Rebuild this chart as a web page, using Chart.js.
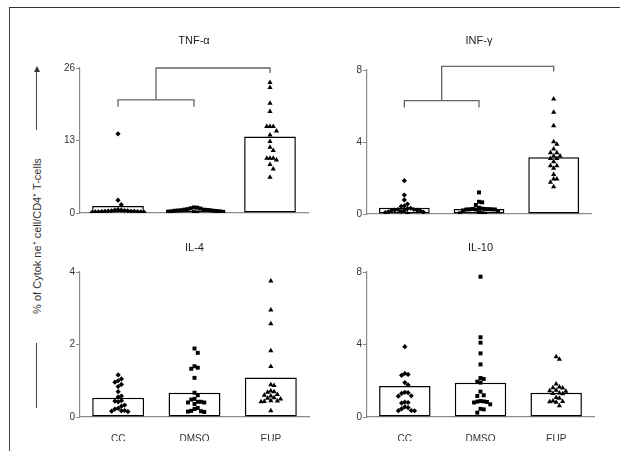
<!DOCTYPE html>
<html>
<head>
<meta charset="utf-8">
<script src="https://cdn.jsdelivr.net/npm/chart.js@4.4.1/dist/chart.umd.min.js"></script>
<style>
  html,body{margin:0;padding:0;background:#fff;}
  body{width:620px;height:451px;position:relative;overflow:hidden;font-family:"Liberation Sans",Arial,sans-serif;}
  canvas{position:absolute;}
  #frame{position:absolute;left:9px;top:7px;width:620px;height:450px;border-top:1.5px solid #333;border-left:1px solid #444;}
  #ytitle{position:absolute;left:36px;top:236px;transform:translate(-50%,-50%) rotate(-90deg);white-space:nowrap;font-size:11px;color:#333;}
  .vline{position:absolute;width:1px;background:#444;}
  #arrowhead{position:absolute;left:33.5px;top:66px;width:0;height:0;border-left:3px solid transparent;border-right:3px solid transparent;border-bottom:6px solid #333;}
</style>
</head>
<body>
<div id="frame"></div>
<div id="ytitle">% of Cytok ne⁺ cell/CD4⁺ T-cells</div>
<div class="vline" style="left:36px;top:70px;height:60px;"></div>
<div id="arrowhead"></div>
<div class="vline" style="left:36px;top:343px;height:65px;"></div>

<canvas id="c0" width="292" height="203" style="left:20px;top:20px;"></canvas>
<canvas id="c1" width="288" height="204" style="left:307px;top:20px;"></canvas>
<canvas id="c2" width="293" height="214" style="left:20px;top:227px;"></canvas>
<canvas id="c3" width="291" height="214" style="left:307px;top:227px;"></canvas>

<script>
// ---------- data ----------
const categories = ['CC', 'DMSO', 'EUP'];
const panelTitles = ['TNF-α', 'INF-γ', 'IL-4', 'IL-10'];
const yMaxes = [26, 8, 4, 8];
const yTickValues = [[0, 13, 26], [0, 4, 8], [0, 2, 4], [0, 4, 8]];

const tnfCC   = [14.2, 2.3, 1.5, 0.6, 0.5, 0.5, 0.45, 0.4, 0.4, 0.35, 0.3, 0.3, 0.3, 0.25, 0.25, 0.2, 0.2, 0.2, 0.15, 0.1];
const tnfDMSO = [1.0, 0.95, 0.85, 0.8, 0.7, 0.6, 0.6, 0.55, 0.5, 0.5, 0.45, 0.4, 0.4, 0.35, 0.3, 0.3, 0.25, 0.2, 0.15, 0.1];
const tnfEUP  = [23.4, 22.5, 19.7, 18.2, 15.5, 15.5, 15.5, 14.7, 14.0, 12.8, 11.8, 11.2, 9.8, 9.8, 9.8, 9.5, 8.7, 7.9, 6.4];
const tnfBars = [1.25, 0.4, 13.7];

const infCC   = [1.85, 1.05, 0.78, 0.55, 0.45, 0.42, 0.32, 0.3, 0.25, 0.25, 0.22, 0.22, 0.2, 0.2, 0.18, 0.15, 0.12, 0.1, 0.08, 0.03];
const infDMSO = [1.2, 0.68, 0.65, 0.5, 0.35, 0.3, 0.28, 0.28, 0.27, 0.26, 0.26, 0.25, 0.25, 0.25, 0.2, 0.15, 0.1, 0.05, 0.04, 0.02];
const infEUP  = [6.39, 5.65, 4.9, 4.02, 3.87, 3.61, 3.4, 3.4, 3.22, 3.22, 3.09, 3.09, 2.9, 2.68, 2.68, 2.54, 2.2, 1.94, 1.94, 1.76, 1.52];
const infBars = [0.35, 0.28, 3.15];

const il4CC   = [1.16, 1.05, 1.0, 0.96, 0.9, 0.84, 0.7, 0.58, 0.55, 0.45, 0.44, 0.42, 0.33, 0.3, 0.24, 0.22, 0.18, 0.17, 0.16, 0.15];
const il4DMSO = [1.89, 1.77, 1.4, 1.36, 1.33, 1.08, 0.67, 0.6, 0.5, 0.48, 0.42, 0.42, 0.4, 0.4, 0.36, 0.25, 0.22, 0.17, 0.16, 0.15, 0.14];
const il4EUP  = [3.75, 2.95, 2.57, 1.83, 1.39, 0.89, 0.87, 0.72, 0.7, 0.68, 0.62, 0.6, 0.58, 0.53, 0.52, 0.5, 0.45, 0.44, 0.43, 0.42, 0.17];
const il4Bars = [0.53, 0.67, 1.09];

const il10CC   = [3.88, 2.4, 2.35, 2.3, 1.9, 1.77, 1.36, 1.34, 1.3, 1.17, 1.15, 0.82, 0.8, 0.77, 0.56, 0.52, 0.45, 0.36, 0.35, 0.34];
const il10DMSO = [7.74, 4.4, 4.1, 3.51, 2.9, 2.15, 2.1, 1.95, 1.9, 1.4, 1.2, 1.16, 0.88, 0.86, 0.85, 0.83, 0.8, 0.7, 0.45, 0.42, 0.24];
const il10EUP  = [3.33, 3.18, 1.82, 1.65, 1.62, 1.6, 1.48, 1.45, 1.42, 1.33, 1.3, 1.28, 1.08, 1.04, 0.88, 0.86, 0.84, 0.82, 0.62];
const il10Bars = [1.71, 1.89, 1.34];

// significance brackets (top panels only): lower / upper bracket values
const bracketLow  = [20.3, 6.3];
const bracketHigh = [26, 8.2];

// ---------- helpers ----------
const panelGroups = [
  [tnfCC, tnfDMSO, tnfEUP],
  [infCC, infDMSO, infEUP],
  [il4CC, il4DMSO, il4EUP],
  [il10CC, il10DMSO, il10EUP]
];
const panelBars = [tnfBars, infBars, il4Bars, il10Bars];
const pointStyles = ['rectRot', 'rect', 'triangle'];
const pointRadii = [2.6, 2.8, 3];

// column-scatter (beeswarm) offsets, computed in approximate pixel space
const PX_PER_CAT = 77.3, PLOT_H = 145, STEP_PX = 3.3, THR_PX = 4.5;
function swarmOffsets(values, yMax) {
  const pxPerUnit = PLOT_H / yMax;
  const order = values.map((v, i) => i).sort((a, b) => values[b] - values[a]);
  const placed = [];
  const off = new Array(values.length);
  for (const i of order) {
    const py = values[i] * pxPerUnit;
    for (let k = 0; k < 80; k++) {
      const m = Math.ceil(k / 2) * (k % 2 ? 1 : -1);
      const ox = m * STEP_PX;
      const hit = placed.some(p => Math.abs(p.y - py) < THR_PX && Math.abs(p.x - ox) < STEP_PX * 0.99);
      if (!hit) { placed.push({x: ox, y: py}); off[i] = ox / PX_PER_CAT; break; }
    }
  }
  return off;
}

const bracketPlugin = {
  id: 'brackets',
  afterDraw(chart, args, opts) {
    if (opts.low == null) return;
    const {ctx, scales: {x, y}} = chart;
    const xl = x.getPixelForValue(0), xm = x.getPixelForValue(1), xr = x.getPixelForValue(2);
    const xc = (xl + xm) / 2;
    const yl = y.getPixelForValue(opts.low), yh = y.getPixelForValue(opts.high);
    ctx.save();
    ctx.strokeStyle = '#666';
    ctx.lineWidth = 1.3;
    ctx.beginPath();
    ctx.moveTo(xl, yl + 7); ctx.lineTo(xl, yl); ctx.lineTo(xm, yl); ctx.lineTo(xm, yl + 7);
    ctx.moveTo(xc, yl); ctx.lineTo(xc, yh); ctx.lineTo(xr, yh); ctx.lineTo(xr, yh + 5);
    ctx.stroke();
    ctx.restore();
  }
};

const FONT = '"Liberation Sans", Arial, sans-serif';
const layouts = [
  {titleTop: 14.4, titleBottom: 20.4, xh: 10, labels: false},
  {titleTop: 14.4, titleBottom: 22.4, xh: 10, labels: false},
  {titleTop: 14.4, titleBottom: 17.4, xh: 24, labels: true},
  {titleTop: 14.4, titleBottom: 17.4, xh: 24, labels: true}
];

for (let p = 0; p < 4; p++) {
  const L = layouts[p];
  const datasets = [{
    type: 'bar',
    data: panelBars[p].map((v, i) => ({x: i, y: v})),
    backgroundColor: '#fff',
    borderColor: '#000',
    borderWidth: 1.5,
    borderSkipped: false,
    barPercentage: 0.68,
    categoryPercentage: 1,
    order: 2
  }];
  panelGroups[p].forEach((vals, g) => {
    const offs = swarmOffsets(vals, yMaxes[p]);
    datasets.push({
      type: 'scatter',
      data: vals.map((v, i) => ({x: g + offs[i], y: v})),
      pointStyle: pointStyles[g],
      pointRadius: pointRadii[g],
      backgroundColor: '#000',
      borderColor: '#000',
      borderWidth: 0,
      order: 0
    });
  });

  new Chart(document.getElementById('c' + p), {
    type: 'bar',
    data: {datasets},
    plugins: [bracketPlugin],
    options: {
      responsive: false,
      animation: false,
      events: [],
      layout: {padding: 0},
      plugins: {
        legend: {display: false},
        tooltip: {enabled: false},
        title: {
          display: true,
          text: panelTitles[p],
          fullSize: false,
          color: '#222',
          font: {family: FONT, size: 11, weight: 'normal'},
          padding: {top: L.titleTop, bottom: L.titleBottom}
        },
        brackets: p < 2 ? {low: bracketLow[p], high: bracketHigh[p]} : {}
      },
      scales: {
        x: {
          type: 'linear',
          min: -0.5, max: 2.5,
          offset: false,
          afterBuildTicks: s => { s.ticks = [0, 1, 2].map(v => ({value: v})); },
          afterFit: s => { s.height = L.xh; },
          grid: {display: false},
          border: {color: '#8a8a8a', width: 1.2},
          ticks: {
            display: L.labels,
            padding: 8,
            color: '#333',
            font: {family: FONT, size: 10},
            callback: v => categories[v]
          }
        },
        y: {
          min: 0, max: yMaxes[p],
          afterBuildTicks: s => { s.ticks = yTickValues[p].map(v => ({value: v})); },
          afterFit: s => { s.width = 60; },
          grid: {drawOnChartArea: false, drawTicks: true, tickLength: 4, color: '#8a8a8a'},
          border: {color: '#8a8a8a', width: 1.2},
          ticks: {padding: 1, color: '#333', font: {family: FONT, size: 10}}
        }
      }
    }
  });
}
</script>
</body>
</html>
